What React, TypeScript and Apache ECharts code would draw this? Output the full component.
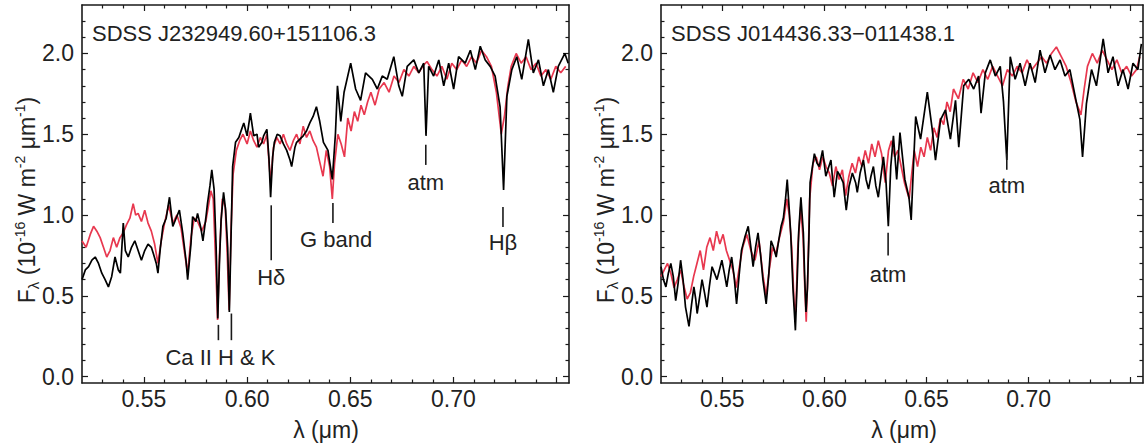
import React, { useEffect, useRef } from 'react';
import * as echarts from 'echarts';

// ---------- axis ranges & ticks ----------
const X_MIN = 0.52;
const X_MAX = 0.756;
const Y_MIN = -0.04;
const Y_MAX = 2.3;
const X_MAJOR = [0.55, 0.6, 0.65, 0.7, 0.75];
const X_LABELS = [0.55, 0.6, 0.65, 0.7];
const X_MINOR = [0.53, 0.54, 0.56, 0.57, 0.58, 0.59, 0.61, 0.62, 0.63, 0.64, 0.66, 0.67, 0.68, 0.69, 0.71, 0.72, 0.73, 0.74];
const Y_MAJOR = [0, 0.5, 1.0, 1.5, 2.0];
const Y_MINOR = [0.1, 0.2, 0.3, 0.4, 0.6, 0.7, 0.8, 0.9, 1.1, 1.2, 1.3, 1.4, 1.6, 1.7, 1.8, 1.9, 2.1, 2.2];

const TITLES = ['SDSS J232949.60+151106.3', 'SDSS J014436.33\u2212011438.1'];

// ---------- spectra: [wavelength (um), flux] ----------
const LEFT_BLACK: [number, number][] = [
  [0.52, 0.6], [0.5216, 0.66], [0.5232, 0.68], [0.5248, 0.72], [0.5264, 0.74], [0.528, 0.7], [0.5296, 0.64], [0.5312, 0.6],
  [0.5328, 0.555], [0.5344, 0.62], [0.536, 0.74], [0.5376, 0.66], [0.5386, 0.64], [0.54, 0.95], [0.541, 0.78], [0.5424, 0.74],
  [0.544, 0.8], [0.5456, 0.84], [0.5472, 0.78], [0.5488, 0.72], [0.5504, 0.78], [0.552, 0.82], [0.5536, 0.8], [0.5546, 0.76],
  [0.556, 0.7], [0.5568, 0.64], [0.558, 0.8], [0.5592, 0.93], [0.5608, 0.98], [0.5624, 1.11], [0.564, 0.93], [0.5656, 0.98],
  [0.5672, 1.03], [0.5688, 0.89], [0.5704, 0.72], [0.5712, 0.6], [0.5728, 0.82], [0.5736, 0.99], [0.5752, 0.96], [0.576, 1.01],
  [0.5776, 0.92], [0.5786, 0.84], [0.58, 0.98], [0.5808, 1.07], [0.582, 1.18], [0.5829, 1.28], [0.584, 1.16], [0.585, 0.8],
  [0.5858, 0.36], [0.5866, 0.7], [0.5874, 0.97], [0.5886, 1.14], [0.5896, 1.03], [0.5906, 0.8], [0.5914, 0.4], [0.5922, 0.85],
  [0.593, 1.3], [0.5944, 1.45], [0.596, 1.48], [0.5968, 1.51], [0.5984, 1.57], [0.6, 1.49], [0.6016, 1.63], [0.6032, 1.49],
  [0.6048, 1.5], [0.6056, 1.42], [0.6072, 1.45], [0.608, 1.49], [0.6096, 1.53], [0.6106, 1.35], [0.6114, 1.11], [0.6124, 1.36],
  [0.6132, 1.45], [0.6146, 1.5], [0.616, 1.49], [0.6176, 1.44], [0.6192, 1.4], [0.6208, 1.34], [0.6216, 1.3], [0.6232, 1.42],
  [0.624, 1.45], [0.6256, 1.47], [0.6272, 1.49], [0.6288, 1.52], [0.6304, 1.57], [0.632, 1.61], [0.6336, 1.67], [0.6352, 1.58],
  [0.637, 1.45], [0.6392, 1.4], [0.6413, 1.22], [0.6428, 1.5], [0.6438, 1.8], [0.6454, 1.58], [0.647, 1.76], [0.6502, 1.94],
  [0.6526, 1.78], [0.655, 1.71], [0.6574, 1.88], [0.6607, 1.84], [0.6631, 1.78], [0.6655, 1.86], [0.6679, 1.84], [0.6711, 1.98],
  [0.6735, 1.8], [0.6752, 1.735], [0.6776, 1.92], [0.6808, 1.96], [0.6832, 1.88], [0.6856, 1.94], [0.6867, 1.49], [0.688, 1.92],
  [0.6904, 1.86], [0.6929, 1.96], [0.6953, 1.8], [0.6977, 1.94], [0.7001, 1.78], [0.7025, 1.98], [0.7057, 1.94], [0.7082, 2.02],
  [0.7106, 1.9], [0.713, 2.045], [0.7154, 1.96], [0.7178, 1.92], [0.7202, 1.86], [0.7226, 1.67], [0.7243, 1.155], [0.7259, 1.735],
  [0.7283, 1.9], [0.7307, 1.98], [0.7331, 1.84], [0.7363, 2.087], [0.7387, 1.88], [0.7412, 1.96], [0.7436, 1.8], [0.746, 1.9],
  [0.7484, 1.76], [0.7508, 1.92], [0.754, 2.0], [0.7556, 1.94],
];

const LEFT_RED: [number, number][] = [
  [0.52, 0.84], [0.522, 0.8], [0.524, 0.88], [0.5256, 0.93], [0.5272, 0.9], [0.5288, 0.86], [0.5304, 0.8], [0.532, 0.74],
  [0.5336, 0.78], [0.5352, 0.86], [0.5368, 0.8], [0.5384, 0.86], [0.54, 0.89], [0.5416, 0.94], [0.5432, 0.98], [0.5448, 1.07],
  [0.546, 1.0], [0.5472, 1.01], [0.5488, 0.96], [0.5504, 1.03], [0.552, 0.95], [0.5536, 0.9], [0.5552, 0.82], [0.5568, 0.7],
  [0.5584, 0.84], [0.56, 0.95], [0.562, 1.06], [0.564, 0.95], [0.566, 1.0], [0.568, 0.92], [0.57, 0.74], [0.5712, 0.64],
  [0.5728, 0.86], [0.5744, 0.98], [0.576, 0.96], [0.578, 0.9], [0.58, 0.96], [0.5812, 1.05], [0.5824, 1.15], [0.5836, 1.1],
  [0.5848, 0.7], [0.5857, 0.35], [0.5866, 0.75], [0.588, 1.1], [0.5894, 1.05], [0.5904, 0.75], [0.5913, 0.41], [0.5922, 0.9],
  [0.5932, 1.25], [0.5948, 1.4], [0.5964, 1.46], [0.598, 1.5], [0.6, 1.44], [0.6016, 1.52], [0.6032, 1.46], [0.6048, 1.42],
  [0.6064, 1.48], [0.608, 1.44], [0.6096, 1.5], [0.6114, 1.2], [0.6128, 1.42], [0.6144, 1.48], [0.616, 1.44], [0.6176, 1.5],
  [0.6192, 1.44], [0.6208, 1.4], [0.6224, 1.46], [0.624, 1.5], [0.6256, 1.44], [0.6272, 1.55], [0.6288, 1.48], [0.6304, 1.52],
  [0.632, 1.46], [0.6336, 1.42], [0.635, 1.34], [0.6368, 1.24], [0.6384, 1.4], [0.64, 1.3], [0.6413, 1.1], [0.6424, 1.32],
  [0.644, 1.5], [0.6456, 1.44], [0.6472, 1.36], [0.6488, 1.6], [0.6504, 1.52], [0.652, 1.64], [0.6536, 1.58], [0.6552, 1.68],
  [0.6568, 1.62], [0.6584, 1.7], [0.66, 1.76], [0.662, 1.68], [0.664, 1.78], [0.6664, 1.82], [0.6688, 1.76], [0.6712, 1.86],
  [0.6736, 1.82], [0.676, 1.9], [0.6784, 1.86], [0.6808, 1.92], [0.6832, 1.88], [0.6856, 1.93], [0.6872, 1.95], [0.6896, 1.9],
  [0.692, 1.86], [0.6944, 1.92], [0.6968, 1.84], [0.6992, 1.94], [0.7016, 1.9], [0.704, 1.96], [0.7064, 1.92], [0.7088, 1.98],
  [0.7112, 1.94], [0.7136, 2.02], [0.716, 1.98], [0.7184, 1.92], [0.7208, 1.76], [0.7232, 1.5], [0.7248, 1.62], [0.7264, 1.8],
  [0.728, 1.92], [0.7304, 2.0], [0.7328, 1.94], [0.7352, 1.98], [0.7376, 1.9], [0.74, 1.94], [0.7424, 1.86], [0.7448, 1.9],
  [0.7472, 1.84], [0.7496, 1.92], [0.752, 1.88], [0.7544, 1.92],
];

const RIGHT_BLACK: [number, number][] = [
  [0.52, 0.68], [0.5212, 0.6], [0.5224, 0.555], [0.5236, 0.64], [0.5248, 0.7], [0.526, 0.62], [0.5272, 0.47], [0.5284, 0.58],
  [0.5296, 0.72], [0.5308, 0.6], [0.532, 0.43], [0.5337, 0.31], [0.535, 0.45], [0.5361, 0.555], [0.537, 0.48], [0.5377, 0.39],
  [0.539, 0.5], [0.5401, 0.6], [0.5413, 0.52], [0.5425, 0.43], [0.5437, 0.56], [0.545, 0.68], [0.5462, 0.64], [0.5474, 0.6],
  [0.5486, 0.66], [0.5498, 0.72], [0.551, 0.64], [0.5522, 0.555], [0.5534, 0.66], [0.5546, 0.74], [0.5558, 0.62], [0.557, 0.45],
  [0.5582, 0.62], [0.5594, 0.78], [0.561, 0.86], [0.5627, 0.93], [0.564, 0.8], [0.5651, 0.68], [0.5663, 0.8], [0.5675, 0.89],
  [0.5687, 0.76], [0.5699, 0.6], [0.5715, 0.45], [0.5727, 0.62], [0.5739, 0.84], [0.5751, 0.8], [0.5764, 0.74], [0.5776, 0.84],
  [0.5788, 0.93], [0.5799, 0.98], [0.5809, 1.09], [0.5818, 1.22], [0.5827, 1.05], [0.5835, 0.89], [0.5846, 0.55], [0.5858, 0.286],
  [0.5867, 0.6], [0.5874, 0.89], [0.5885, 1.11], [0.5897, 0.89], [0.5904, 0.6], [0.591, 0.4], [0.5917, 0.55], [0.5924, 0.85],
  [0.593, 1.2], [0.5951, 1.38], [0.5964, 1.32], [0.5975, 1.3], [0.5991, 1.4], [0.6007, 1.24], [0.6022, 1.3], [0.6032, 1.34],
  [0.6048, 1.11], [0.6064, 1.27], [0.6078, 1.24], [0.6092, 1.2], [0.6107, 1.03], [0.6121, 1.18], [0.6137, 1.26], [0.6153, 1.2],
  [0.6161, 1.14], [0.6175, 1.26], [0.6191, 1.34], [0.6204, 1.22], [0.6216, 1.16], [0.6228, 1.24], [0.624, 1.3], [0.6252, 1.18],
  [0.6264, 1.11], [0.6277, 1.24], [0.6289, 1.36], [0.6302, 1.2], [0.6313, 0.93], [0.6325, 1.3], [0.6338, 1.49], [0.6354, 1.22],
  [0.637, 1.51], [0.6394, 1.22], [0.6414, 1.11], [0.6425, 0.97], [0.6436, 1.3], [0.6447, 1.61], [0.6471, 1.47], [0.6504, 1.76],
  [0.6528, 1.53], [0.6544, 1.34], [0.6569, 1.59], [0.6593, 1.65], [0.6617, 1.47], [0.6642, 1.71], [0.6658, 1.42], [0.6682, 1.8],
  [0.6707, 1.84], [0.6731, 1.78], [0.6755, 1.86], [0.6767, 1.63], [0.6788, 1.88], [0.6812, 1.96], [0.6837, 1.86], [0.6861, 1.92],
  [0.6877, 1.7], [0.6893, 1.34], [0.691, 1.98], [0.6934, 1.84], [0.6958, 1.94], [0.6983, 1.8], [0.7007, 1.94], [0.7032, 1.82],
  [0.7056, 2.02], [0.708, 1.88], [0.7105, 1.99], [0.7129, 1.9], [0.7154, 1.96], [0.7178, 1.86], [0.7202, 1.9], [0.7227, 1.74],
  [0.7251, 1.59], [0.7264, 1.36], [0.7283, 1.69], [0.7308, 1.9], [0.7332, 1.8], [0.7365, 2.09], [0.7389, 1.88], [0.7413, 1.98],
  [0.7438, 1.8], [0.7462, 1.9], [0.7487, 1.78], [0.7511, 1.94], [0.7535, 1.9], [0.7552, 2.06],
];

const RIGHT_RED: [number, number][] = [
  [0.52, 0.62], [0.5216, 0.66], [0.5232, 0.7], [0.5248, 0.64], [0.5264, 0.55], [0.528, 0.6], [0.5296, 0.66], [0.5312, 0.56],
  [0.5328, 0.48], [0.5344, 0.52], [0.536, 0.62], [0.5376, 0.7], [0.5392, 0.78], [0.5408, 0.66], [0.5424, 0.8], [0.544, 0.86],
  [0.5456, 0.78], [0.5472, 0.9], [0.5488, 0.82], [0.5504, 0.88], [0.552, 0.78], [0.5536, 0.72], [0.5552, 0.66], [0.5568, 0.55],
  [0.5584, 0.68], [0.56, 0.8], [0.562, 0.88], [0.564, 0.78], [0.566, 0.72], [0.568, 0.84], [0.57, 0.62], [0.5715, 0.5],
  [0.573, 0.66], [0.5746, 0.8], [0.5762, 0.76], [0.578, 0.86], [0.58, 0.96], [0.5816, 1.1], [0.5828, 1.0], [0.584, 0.8],
  [0.5852, 0.45], [0.586, 0.4], [0.587, 0.8], [0.5884, 1.05], [0.5896, 0.85], [0.5904, 0.55], [0.5911, 0.34], [0.5918, 0.6],
  [0.5928, 1.1], [0.5944, 1.32], [0.596, 1.36], [0.5976, 1.28], [0.5992, 1.36], [0.6008, 1.3], [0.6024, 1.26], [0.604, 1.18],
  [0.6056, 1.3], [0.6072, 1.22], [0.6088, 1.28], [0.6104, 1.12], [0.612, 1.24], [0.6136, 1.32], [0.6152, 1.26], [0.6168, 1.36],
  [0.6184, 1.3], [0.62, 1.4], [0.6216, 1.32], [0.6232, 1.44], [0.6248, 1.36], [0.6264, 1.46], [0.628, 1.38], [0.6298, 1.2],
  [0.6314, 1.4], [0.6328, 1.46], [0.6344, 1.36], [0.636, 1.4], [0.6376, 1.3], [0.6392, 1.2], [0.6415, 1.1], [0.6428, 1.26],
  [0.644, 1.4], [0.6456, 1.3], [0.6472, 1.42], [0.6488, 1.36], [0.6504, 1.48], [0.652, 1.4], [0.6536, 1.54], [0.6552, 1.48],
  [0.6568, 1.6], [0.6584, 1.56], [0.66, 1.7], [0.6616, 1.64], [0.6632, 1.78], [0.6656, 1.72], [0.668, 1.84], [0.6704, 1.78],
  [0.6728, 1.88], [0.6752, 1.82], [0.6776, 1.9], [0.68, 1.84], [0.6824, 1.92], [0.6848, 1.86], [0.6872, 1.8], [0.6896, 1.9],
  [0.692, 1.86], [0.6944, 1.92], [0.6968, 1.88], [0.6992, 1.96], [0.7016, 1.9], [0.704, 1.94], [0.7064, 1.98], [0.7088, 1.94],
  [0.7112, 2.0], [0.7136, 2.04], [0.716, 1.98], [0.7184, 1.92], [0.7208, 1.82], [0.7232, 1.7], [0.7256, 1.62], [0.7272, 1.78],
  [0.7288, 1.92], [0.7312, 2.0], [0.7336, 1.94], [0.736, 2.02], [0.7384, 1.96], [0.7408, 1.9], [0.7432, 1.96], [0.7456, 1.88],
  [0.748, 1.92], [0.7504, 1.86], [0.7528, 1.9], [0.7544, 1.98],
];

// ---------- annotations: marker ticks [x, yTop, yBottom], labels ----------
const LEFT_MARKS = [[0.5861, 0.32, 0.225], [0.5924, 0.39, 0.225], [0.6117, 1.06, 0.72], [0.6416, 1.075, 0.95], [0.6866, 1.435, 1.31], [0.724, 1.05, 0.925]];
const LEFT_LABEL_POS = [[0.5871, 0.115], [0.6117, 0.615], [0.6431, 0.85], [0.6866, 1.2], [0.724, 0.83]];
const LEFT_LABEL_TEXT = ['Ca II H & K', 'H\u03b4', 'G band', 'atm', 'H\u03b2'];
const RIGHT_MARKS = [[0.6312, 0.89, 0.75], [0.6893, 1.38, 1.28]];
const RIGHT_LABEL_POS = [[0.6312, 0.63], [0.6893, 1.18]];
const RIGHT_LABEL_TEXT = ['atm', 'atm'];

const FONT = '"Liberation Sans", Arial, Helvetica, sans-serif';
const INK = '#1a1a1a';
const RED = '#e8384f';

function buildAxes(g: number) {
  const line = { show: true, onZero: false, lineStyle: { color: INK, width: 1.6 } };
  const noLine = { show: false, onZero: false };
  const tickStyle = { color: INK, width: 1.2 };
  const xs = [
    { pos: 'bottom', ticks: X_MAJOR, len: 6, axisLine: line, label: true },
    { pos: 'bottom', ticks: X_MINOR, len: 3.5, axisLine: noLine, label: false },
    { pos: 'top', ticks: X_MAJOR, len: 6, axisLine: line, label: false },
    { pos: 'top', ticks: X_MINOR, len: 3.5, axisLine: noLine, label: false },
  ].map((a) => ({
    type: 'value', gridIndex: g, min: X_MIN, max: X_MAX, position: a.pos,
    axisLine: a.axisLine,
    axisTick: { show: true, inside: true, length: a.len, customValues: a.ticks, lineStyle: tickStyle },
    axisLabel: a.label
      ? { show: true, customValues: X_LABELS, formatter: (v: number) => v.toFixed(2), fontSize: 23, fontFamily: FONT, color: '#222', margin: 4 }
      : { show: false },
    splitLine: { show: false },
  }));
  const ys = [
    { pos: 'left', ticks: Y_MAJOR, len: 6, axisLine: line, label: true },
    { pos: 'left', ticks: Y_MINOR, len: 3.5, axisLine: noLine, label: false },
    { pos: 'right', ticks: Y_MAJOR, len: 6, axisLine: line, label: false },
    { pos: 'right', ticks: Y_MINOR, len: 3.5, axisLine: noLine, label: false },
  ].map((a) => ({
    type: 'value', gridIndex: g, min: Y_MIN, max: Y_MAX, position: a.pos,
    axisLine: a.axisLine,
    axisTick: { show: true, inside: true, length: a.len, customValues: a.ticks, lineStyle: tickStyle },
    axisLabel: a.label
      ? { show: true, customValues: Y_MAJOR, formatter: (v: number) => v.toFixed(1), fontSize: 23, fontFamily: FONT, color: '#222', margin: 8 }
      : { show: false },
    splitLine: { show: false },
  }));
  return { xs, ys };
}

function panelSeries(g: number, black: [number, number][], red: [number, number][], marks: number[][], labelPos: number[][], labelText: string[]) {
  const ax = { xAxisIndex: g * 4, yAxisIndex: g * 4 };
  return [
    { type: 'line', ...ax, data: red, showSymbol: false, symbol: 'none', lineStyle: { color: RED, width: 1.7 }, z: 3 },
    { type: 'line', ...ax, data: black, showSymbol: false, symbol: 'none', lineStyle: { color: '#000', width: 1.7 }, z: 4 },
    {
      type: 'custom', ...ax, data: marks, z: 5,
      renderItem: (_p: any, api: any) => {
        const a = api.coord([api.value(0), api.value(1)]);
        const b = api.coord([api.value(0), api.value(2)]);
        return { type: 'line', shape: { x1: a[0], y1: a[1], x2: b[0], y2: b[1] }, style: { stroke: INK, lineWidth: 1.6 } };
      },
    },
    {
      type: 'custom', ...ax, data: labelPos, z: 5,
      renderItem: (p: any, api: any) => {
        const a = api.coord([api.value(0), api.value(1)]);
        return {
          type: 'text', x: a[0], y: a[1],
          style: { text: labelText[p.dataIndex], fontSize: 22, fontFamily: FONT, fill: '#222', align: 'center', verticalAlign: 'middle' },
        };
      },
    },
  ];
}

function yName(x: number) {
  const base = { fontSize: 23, fontFamily: FONT, fill: '#222', lineHeight: 28, verticalAlign: 'middle' };
  return {
    type: 'text', x, y: 200, rotation: Math.PI / 2,
    style: {
      text: '{m|F}{s|\u03bb}{m| (10}{p|-16}{m| W m}{p|-2}{m| \u03bcm}{p|-1}{m|)}',
      align: 'center', verticalAlign: 'middle',
      rich: {
        m: base,
        s: { fontSize: 15, fontFamily: FONT, fill: '#222', lineHeight: 15, verticalAlign: 'bottom' },
        p: { fontSize: 14, fontFamily: FONT, fill: '#222', lineHeight: 14, verticalAlign: 'top' },
      },
    },
  };
}

export default function App() {
  const ref = useRef<HTMLDivElement>(null);
  useEffect(() => {
    if (!ref.current) return;
    const chart = echarts.init(ref.current, null, { renderer: 'svg' });
    const a0 = buildAxes(0);
    const a1 = buildAxes(1);
    chart.setOption({
      animation: false,
      backgroundColor: '#fff',
      grid: [
        { left: 82, top: 5, width: 487, height: 378 },
        { left: 661, top: 5, width: 482, height: 378 },
      ],
      xAxis: [...a0.xs, ...a1.xs],
      yAxis: [...a0.ys, ...a1.ys],
      series: [
        ...panelSeries(0, LEFT_BLACK, LEFT_RED, LEFT_MARKS, LEFT_LABEL_POS, LEFT_LABEL_TEXT),
        ...panelSeries(1, RIGHT_BLACK, RIGHT_RED, RIGHT_MARKS, RIGHT_LABEL_POS, RIGHT_LABEL_TEXT),
      ],
      graphic: [
        { type: 'text', x: 92, y: 33, style: { text: TITLES[0], fontSize: 22, fontFamily: FONT, fill: '#222', verticalAlign: 'middle' } },
        { type: 'text', x: 671, y: 33, style: { text: TITLES[1], fontSize: 22, fontFamily: FONT, fill: '#222', verticalAlign: 'middle' } },
        { type: 'text', x: 326, y: 430, style: { text: '\u03bb (\u03bcm)', fontSize: 23, fontFamily: FONT, fill: '#222', align: 'center', verticalAlign: 'middle' } },
        { type: 'text', x: 904, y: 430, style: { text: '\u03bb (\u03bcm)', fontSize: 23, fontFamily: FONT, fill: '#222', align: 'center', verticalAlign: 'middle' } },
        yName(27),
        yName(606),
      ],
    });
    return () => chart.dispose();
  }, []);
  return <div ref={ref} style={{ position: 'absolute', left: 0, top: 0, width: 1148, height: 445 }} />;
}
